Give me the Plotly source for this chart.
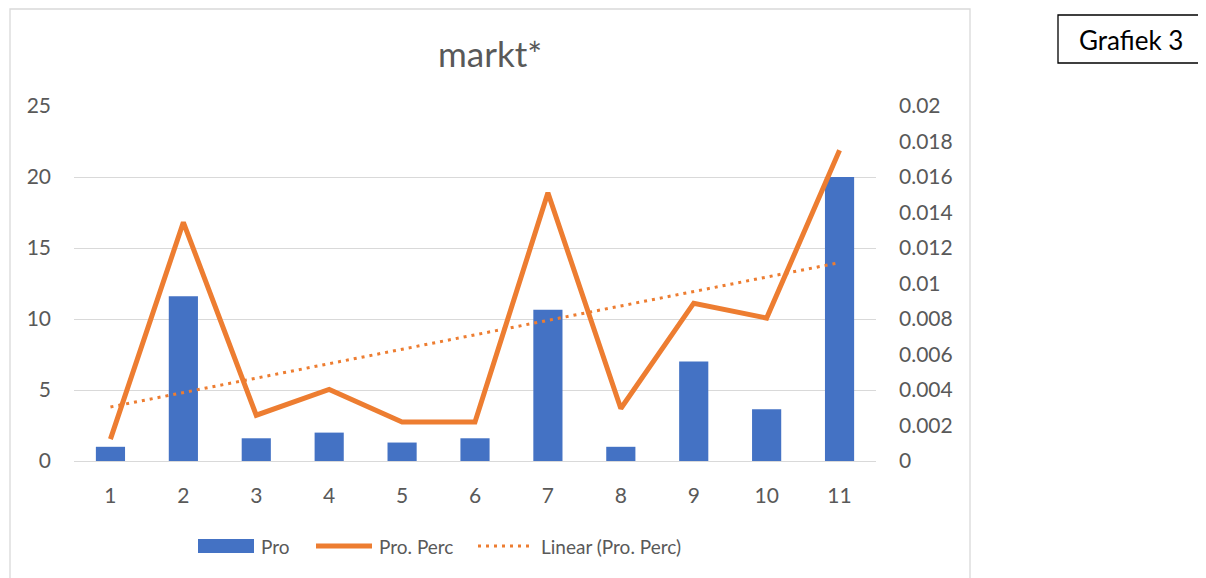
import numpy as np
import plotly.graph_objects as go

categories = [1, 2, 3, 4, 5, 6, 7, 8, 9, 10, 11]
pro = [1, 11.6, 1.6, 2, 1.3, 1.6, 10.65, 1, 7, 3.65, 20]
pro_perc = [0.00123, 0.01345, 0.00258, 0.00403, 0.0022, 0.0022, 0.01511, 0.00296, 0.00889, 0.00805, 0.0175]
left_ticks = [0, 5, 10, 15, 20, 25]
right_ticks = [0, 0.002, 0.004, 0.006, 0.008, 0.01, 0.012, 0.014, 0.016, 0.018, 0.02]
right_tick_labels = ["0", "0.002", "0.004", "0.006", "0.008", "0.01", "0.012", "0.014", "0.016", "0.018", "0.02"]

BLUE = "#4472C4"
ORANGE = "#ED7D31"
GREY = "#595959"
GRID = "#D9D9D9"
FONT = "Lato"

# excel style linear trendline
slope, intercept = np.polyfit(categories, pro_perc, 1)
trend = [slope * x + intercept for x in categories]

fig = go.Figure()
fig.add_trace(go.Bar(x=categories, y=pro, name="Pro", marker=dict(color=BLUE, line=dict(width=0)), width=0.4))
fig.add_trace(go.Scatter(x=categories, y=pro_perc, name="Pro. Perc", mode="lines",
                         line=dict(color=ORANGE, width=5), yaxis="y2"))
fig.add_trace(go.Scatter(x=categories, y=trend, name="Linear (Pro. Perc)", mode="lines",
                         line=dict(color=ORANGE, width=3, dash="3px,5px"), yaxis="y2"))

# page has an 8px body margin, so the figure sits 8px right/down
OFF = 8
W, H = 1206, 578
L, R, T, B = 74 - OFF, 876 - OFF, 106 - OFF, 461 - OFF


def px(x):
    return (x - OFF - L) / (R - L)


def py(y):
    return (B - (y - OFF)) / (B - T)


shapes = [
    # chart border
    dict(type="rect", xref="paper", yref="paper", x0=px(10), x1=px(970), y0=py(620), y1=py(9),
         line=dict(color=GRID, width=1.3), layer="below"),
    # Grafiek 3 box
    dict(type="rect", xref="paper", yref="paper", x0=px(1058), x1=px(1260), y0=py(63), y1=py(15),
         line=dict(color="black", width=1.3)),
    # legend symbols
    dict(type="rect", xref="paper", yref="paper", x0=px(198), x1=px(254), y0=py(553), y1=py(539),
         fillcolor=BLUE, line=dict(width=0)),
    dict(type="line", xref="paper", yref="paper", x0=px(316), x1=px(372), y0=py(546), y1=py(546),
         line=dict(color=ORANGE, width=5)),
    dict(type="line", xref="paper", yref="paper", x0=px(478), x1=px(534), y0=py(546), y1=py(546),
         line=dict(color=ORANGE, width=3, dash="3px,5px")),
]


def label(text, x, y, size, color=GREY, anchor="center"):
    return dict(text=text, xref="paper", yref="paper", x=px(x), y=py(y), xanchor=anchor, yanchor="middle",
                showarrow=False, font=dict(family=FONT, size=size, color=color))


annotations = [
    label("markt*", 490, 53, 35),
    label("Grafiek 3", 1131, 40, 26, color="black"),
    label("Pro", 259, 546, 19, anchor="left"),
    label("Pro. Perc", 377, 546, 19, anchor="left"),
    label("Linear (Pro. Perc)", 539, 546, 19, anchor="left"),
]

fig.update_layout(
    width=W, height=H,
    margin=dict(l=L, r=W - R, t=T, b=H - B, pad=0),
    paper_bgcolor="white", plot_bgcolor="white",
    showlegend=False,
    font=dict(family=FONT, size=21, color=GREY),
    xaxis=dict(range=[0.5, 11.5], tickvals=categories, showgrid=False, zeroline=False,
               showline=True, linecolor=GRID, linewidth=1.3, ticks="", ticklabelstandoff=16),
    yaxis=dict(range=[0, 25], tickvals=left_ticks, showgrid=True, gridcolor=GRID, gridwidth=1.3,
               zeroline=False, ticks="", ticklabelstandoff=22),
    yaxis2=dict(range=[0, 0.02], tickvals=right_ticks, ticktext=right_tick_labels, overlaying="y",
                side="right", showgrid=False, zeroline=False, ticks="", ticklabelstandoff=22),
    shapes=shapes,
    annotations=annotations,
)

fig.write_html("out.html")
